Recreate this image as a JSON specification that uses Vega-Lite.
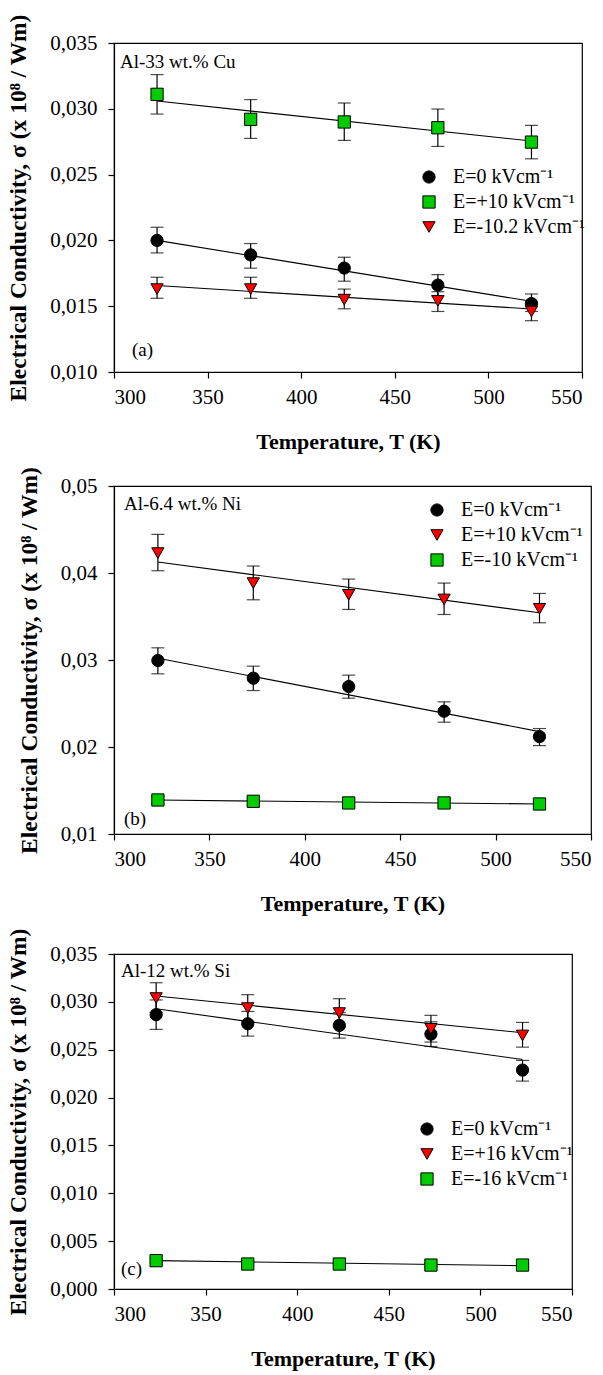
{
  "$schema": "https://vega.github.io/schema/vega-lite/v6.json",
  "padding": {"left": 6, "top": 13, "right": 5, "bottom": 5},
  "background": "white",
  "columns": 1,
  "align": "none",
  "spacing": 12,
  "datasets": {
    "a_pts": [
      {"T": 323, "s": 0.0200, "lo": 0.01905, "hi": 0.0210, "E": "E=0 kVcm⁻¹"},
      {"T": 373, "s": 0.0189, "lo": 0.01789, "hi": 0.01976, "E": "E=0 kVcm⁻¹"},
      {"T": 423, "s": 0.0179, "lo": 0.0169, "hi": 0.01872, "E": "E=0 kVcm⁻¹"},
      {"T": 473, "s": 0.0166, "lo": 0.0158, "hi": 0.0174, "E": "E=0 kVcm⁻¹"},
      {"T": 523, "s": 0.0152, "lo": 0.0146, "hi": 0.01593, "E": "E=0 kVcm⁻¹"},
      {"T": 323, "s": 0.0311, "lo": 0.0296, "hi": 0.0326, "E": "E=+10 kVcm⁻¹"},
      {"T": 373, "s": 0.0292, "lo": 0.02775, "hi": 0.0307, "E": "E=+10 kVcm⁻¹"},
      {"T": 423, "s": 0.0290, "lo": 0.0276, "hi": 0.03044, "E": "E=+10 kVcm⁻¹"},
      {"T": 473, "s": 0.02856, "lo": 0.02714, "hi": 0.02998, "E": "E=+10 kVcm⁻¹"},
      {"T": 523, "s": 0.02747, "lo": 0.0262, "hi": 0.02874, "E": "E=+10 kVcm⁻¹"},
      {"T": 323, "s": 0.0163, "lo": 0.0156, "hi": 0.0172, "E": "E=-10.2 kVcm⁻¹"},
      {"T": 373, "s": 0.0163, "lo": 0.0156, "hi": 0.0172, "E": "E=-10.2 kVcm⁻¹"},
      {"T": 423, "s": 0.0155, "lo": 0.0148, "hi": 0.0163, "E": "E=-10.2 kVcm⁻¹"},
      {"T": 473, "s": 0.0154, "lo": 0.0146, "hi": 0.0161, "E": "E=-10.2 kVcm⁻¹"},
      {"T": 523, "s": 0.0146, "lo": 0.0139, "hi": 0.0153, "E": "E=-10.2 kVcm⁻¹"}
    ],
    "a_fit": [
      {"T": 323, "s": 0.0200, "E": "E=0 kVcm⁻¹"},
      {"T": 523, "s": 0.01537, "E": "E=0 kVcm⁻¹"},
      {"T": 323, "s": 0.03059, "E": "E=+10 kVcm⁻¹"},
      {"T": 523, "s": 0.02755, "E": "E=+10 kVcm⁻¹"},
      {"T": 323, "s": 0.01657, "E": "E=-10.2 kVcm⁻¹"},
      {"T": 523, "s": 0.01479, "E": "E=-10.2 kVcm⁻¹"}
    ],
    "b_pts": [
      {"T": 323, "s": 0.02994, "lo": 0.02841, "hi": 0.0314, "E": "E=0 kVcm⁻¹"},
      {"T": 373, "s": 0.02791, "lo": 0.02649, "hi": 0.02929, "E": "E=0 kVcm⁻¹"},
      {"T": 423, "s": 0.02695, "lo": 0.02561, "hi": 0.02826, "E": "E=0 kVcm⁻¹"},
      {"T": 473, "s": 0.02411, "lo": 0.02285, "hi": 0.02519, "E": "E=0 kVcm⁻¹"},
      {"T": 523, "s": 0.0212, "lo": 0.02016, "hi": 0.02212, "E": "E=0 kVcm⁻¹"},
      {"T": 323, "s": 0.04229, "lo": 0.04026, "hi": 0.04444, "E": "E=+10 kVcm⁻¹"},
      {"T": 373, "s": 0.03884, "lo": 0.03692, "hi": 0.0408, "E": "E=+10 kVcm⁻¹"},
      {"T": 423, "s": 0.0375, "lo": 0.03581, "hi": 0.0393, "E": "E=+10 kVcm⁻¹"},
      {"T": 473, "s": 0.03696, "lo": 0.03523, "hi": 0.03884, "E": "E=+10 kVcm⁻¹"},
      {"T": 523, "s": 0.03589, "lo": 0.03428, "hi": 0.03765, "E": "E=+10 kVcm⁻¹"},
      {"T": 323, "s": 0.01391, "lo": 0.0135, "hi": 0.0143, "E": "E=-10 kVcm⁻¹"},
      {"T": 373, "s": 0.01376, "lo": 0.01336, "hi": 0.01416, "E": "E=-10 kVcm⁻¹"},
      {"T": 423, "s": 0.01357, "lo": 0.01317, "hi": 0.01397, "E": "E=-10 kVcm⁻¹"},
      {"T": 473, "s": 0.01357, "lo": 0.01317, "hi": 0.01397, "E": "E=-10 kVcm⁻¹"},
      {"T": 523, "s": 0.01345, "lo": 0.01305, "hi": 0.01385, "E": "E=-10 kVcm⁻¹"}
    ],
    "b_fit": [
      {"T": 323, "s": 0.03021, "E": "E=0 kVcm⁻¹"},
      {"T": 523, "s": 0.02177, "E": "E=0 kVcm⁻¹"},
      {"T": 323, "s": 0.04126, "E": "E=+10 kVcm⁻¹"},
      {"T": 523, "s": 0.03543, "E": "E=+10 kVcm⁻¹"},
      {"T": 323, "s": 0.0139, "E": "E=-10 kVcm⁻¹"},
      {"T": 523, "s": 0.01345, "E": "E=-10 kVcm⁻¹"}
    ],
    "c_pts": [
      {"T": 323, "s": 0.02866, "lo": 0.02712, "hi": 0.0302, "E": "E=0 kVcm⁻¹"},
      {"T": 373, "s": 0.02771, "lo": 0.02642, "hi": 0.029, "E": "E=0 kVcm⁻¹"},
      {"T": 423, "s": 0.02754, "lo": 0.02621, "hi": 0.02887, "E": "E=0 kVcm⁻¹"},
      {"T": 473, "s": 0.02663, "lo": 0.02534, "hi": 0.02792, "E": "E=0 kVcm⁻¹"},
      {"T": 523, "s": 0.02287, "lo": 0.02172, "hi": 0.02388, "E": "E=0 kVcm⁻¹"},
      {"T": 323, "s": 0.0304, "lo": 0.0289, "hi": 0.0320, "E": "E=+16 kVcm⁻¹"},
      {"T": 373, "s": 0.02935, "lo": 0.0280, "hi": 0.03075, "E": "E=+16 kVcm⁻¹"},
      {"T": 423, "s": 0.02883, "lo": 0.0274, "hi": 0.03033, "E": "E=+16 kVcm⁻¹"},
      {"T": 473, "s": 0.02719, "lo": 0.0258, "hi": 0.02859, "E": "E=+16 kVcm⁻¹"},
      {"T": 523, "s": 0.02649, "lo": 0.02527, "hi": 0.02785, "E": "E=+16 kVcm⁻¹"},
      {"T": 323, "s": 0.00296, "lo": 0.00276, "hi": 0.00316, "E": "E=-16 kVcm⁻¹"},
      {"T": 373, "s": 0.00261, "lo": 0.00241, "hi": 0.00281, "E": "E=-16 kVcm⁻¹"},
      {"T": 423, "s": 0.00261, "lo": 0.00241, "hi": 0.00281, "E": "E=-16 kVcm⁻¹"},
      {"T": 473, "s": 0.0025, "lo": 0.0023, "hi": 0.0027, "E": "E=-16 kVcm⁻¹"},
      {"T": 523, "s": 0.0025, "lo": 0.0023, "hi": 0.0027, "E": "E=-16 kVcm⁻¹"}
    ],
    "c_fit": [
      {"T": 323, "s": 0.02928, "E": "E=0 kVcm⁻¹"},
      {"T": 523, "s": 0.02398, "E": "E=0 kVcm⁻¹"},
      {"T": 323, "s": 0.03061, "E": "E=+16 kVcm⁻¹"},
      {"T": 523, "s": 0.02677, "E": "E=+16 kVcm⁻¹"},
      {"T": 323, "s": 0.00296, "E": "E=-16 kVcm⁻¹"},
      {"T": 523, "s": 0.00244, "E": "E=-16 kVcm⁻¹"}
    ]
  },
  "concat": [
    {
      "width": 468,
      "height": 329,
      "layer": [
        {"data": {"name": "a_fit"}, "mark": {"type": "line", "color": "black", "strokeWidth": 1.1},
         "encoding": {
           "x": {"field": "T", "type": "quantitative", "title": "Temperature, T (K)", "scale": {"domain": [300, 550], "nice": false, "zero": false, "padding": 0}, "axis": {"values": [300, 350, 400, 450, 500, 550], "format": "d"}},
           "y": {"field": "s", "type": "quantitative", "title": "Electrical Conductivity, σ (x 10⁸ / Wm)", "scale": {"domain": [0.010, 0.035], "nice": false, "zero": false, "padding": 0}, "axis": {"values": [0.010, 0.015, 0.020, 0.025, 0.030, 0.035], "labelExpr": "replace(format(datum.value,'.3f'),'.',',')"}},
           "detail": {"field": "E"}}},
        {"data": {"name": "a_pts"}, "mark": {"type": "errorbar", "color": "black", "ticks": {"size": 13, "thickness": 1.2}, "rule": {"strokeWidth": 1.2}},
         "encoding": {
           "x": {"field": "T", "type": "quantitative", "title": "Temperature, T (K)", "scale": {"domain": [300, 550], "nice": false, "zero": false, "padding": 0}},
           "y": {"field": "lo", "type": "quantitative", "title": "Electrical Conductivity, σ (x 10⁸ / Wm)", "scale": {"domain": [0.010, 0.035], "nice": false, "zero": false, "padding": 0}},
           "y2": {"field": "hi"}}},
        {"data": {"name": "a_pts"}, "mark": {"type": "point", "filled": true, "opacity": 1, "stroke": "black", "strokeWidth": 1, "size": 150},
         "encoding": {
           "x": {"field": "T", "type": "quantitative", "title": "Temperature, T (K)", "scale": {"domain": [300, 550], "nice": false, "zero": false, "padding": 0}},
           "y": {"field": "s", "type": "quantitative", "title": "Electrical Conductivity, σ (x 10⁸ / Wm)", "scale": {"domain": [0.010, 0.035], "nice": false, "zero": false, "padding": 0}},
           "color": {"field": "E", "type": "nominal", "scale": {"domain": ["E=0 kVcm⁻¹", "E=+10 kVcm⁻¹", "E=-10.2 kVcm⁻¹"], "range": ["black", "#00cc00", "#ff0000"]},
                     "legend": {"orient": "none", "legendX": 305, "legendY": 124, "title": null}},
           "shape": {"field": "E", "type": "nominal", "scale": {"domain": ["E=0 kVcm⁻¹", "E=+10 kVcm⁻¹", "E=-10.2 kVcm⁻¹"], "range": ["circle", "square", "triangle-down"]},
                     "legend": {"orient": "none", "legendX": 305, "legendY": 124, "title": null}}
         }},
        {"data": {"values": [{"label": "Al-33 wt.% Cu"}]}, "mark": {"type": "text", "align": "left", "baseline": "middle", "fontSize": 19, "font": "Liberation Serif", "color": "black"},
         "encoding": {
           "x": {"datum": 303.2, "type": "quantitative", "title": "Temperature, T (K)", "scale": {"domain": [300, 550], "nice": false, "zero": false, "padding": 0}},
           "y": {"datum": 0.03356, "type": "quantitative", "title": "Electrical Conductivity, σ (x 10⁸ / Wm)", "scale": {"domain": [0.010, 0.035], "nice": false, "zero": false, "padding": 0}},
           "text": {"field": "label"}}},
        {"data": {"values": [{"label": "(a)"}]}, "mark": {"type": "text", "align": "left", "baseline": "middle", "fontSize": 19, "font": "Liberation Serif", "color": "black"},
         "encoding": {
           "x": {"datum": 309.6, "type": "quantitative", "title": "Temperature, T (K)", "scale": {"domain": [300, 550], "nice": false, "zero": false, "padding": 0}},
           "y": {"datum": 0.01167, "type": "quantitative", "title": "Electrical Conductivity, σ (x 10⁸ / Wm)", "scale": {"domain": [0.010, 0.035], "nice": false, "zero": false, "padding": 0}},
           "text": {"field": "label"}}}
      ]
    },
    {
      "width": 477,
      "height": 348,
      "layer": [
        {"data": {"name": "b_fit"}, "mark": {"type": "line", "color": "black", "strokeWidth": 1.1},
         "encoding": {
           "x": {"field": "T", "type": "quantitative", "title": "Temperature, T (K)", "scale": {"domain": [300, 550], "nice": false, "zero": false, "padding": 0}, "axis": {"values": [300, 350, 400, 450, 500, 550], "format": "d"}},
           "y": {"field": "s", "type": "quantitative", "title": "Electrical Conductivity, σ (x 10⁸ / Wm)", "scale": {"domain": [0.01, 0.05], "nice": false, "zero": false, "padding": 0}, "axis": {"values": [0.01, 0.02, 0.03, 0.04, 0.05], "labelExpr": "replace(format(datum.value,'.2f'),'.',',')"}},
           "detail": {"field": "E"}}},
        {"data": {"name": "b_pts"}, "mark": {"type": "errorbar", "color": "black", "ticks": {"size": 13, "thickness": 1.2}, "rule": {"strokeWidth": 1.2}},
         "encoding": {
           "x": {"field": "T", "type": "quantitative", "title": "Temperature, T (K)", "scale": {"domain": [300, 550], "nice": false, "zero": false, "padding": 0}},
           "y": {"field": "lo", "type": "quantitative", "title": "Electrical Conductivity, σ (x 10⁸ / Wm)", "scale": {"domain": [0.01, 0.05], "nice": false, "zero": false, "padding": 0}},
           "y2": {"field": "hi"}}},
        {"data": {"name": "b_pts"}, "mark": {"type": "point", "filled": true, "opacity": 1, "stroke": "black", "strokeWidth": 1, "size": 150},
         "encoding": {
           "x": {"field": "T", "type": "quantitative", "title": "Temperature, T (K)", "scale": {"domain": [300, 550], "nice": false, "zero": false, "padding": 0}},
           "y": {"field": "s", "type": "quantitative", "title": "Electrical Conductivity, σ (x 10⁸ / Wm)", "scale": {"domain": [0.01, 0.05], "nice": false, "zero": false, "padding": 0}},
           "color": {"field": "E", "type": "nominal", "scale": {"domain": ["E=0 kVcm⁻¹", "E=+10 kVcm⁻¹", "E=-10 kVcm⁻¹"], "range": ["black", "#ff0000", "#00cc00"]},
                     "legend": {"orient": "none", "legendX": 313, "legendY": 14, "title": null}},
           "shape": {"field": "E", "type": "nominal", "scale": {"domain": ["E=0 kVcm⁻¹", "E=+10 kVcm⁻¹", "E=-10 kVcm⁻¹"], "range": ["circle", "triangle-down", "square"]},
                     "legend": {"orient": "none", "legendX": 313, "legendY": 14, "title": null}}
         }},
        {"data": {"values": [{"label": "Al-6.4 wt.% Ni"}]}, "mark": {"type": "text", "align": "left", "baseline": "middle", "fontSize": 19, "font": "Liberation Serif", "color": "black"},
         "encoding": {
           "x": {"datum": 305.2, "type": "quantitative", "title": "Temperature, T (K)", "scale": {"domain": [300, 550], "nice": false, "zero": false, "padding": 0}},
           "y": {"datum": 0.0479, "type": "quantitative", "title": "Electrical Conductivity, σ (x 10⁸ / Wm)", "scale": {"domain": [0.01, 0.05], "nice": false, "zero": false, "padding": 0}},
           "text": {"field": "label"}}},
        {"data": {"values": [{"label": "(b)"}]}, "mark": {"type": "text", "align": "left", "baseline": "middle", "fontSize": 19, "font": "Liberation Serif", "color": "black"},
         "encoding": {
           "x": {"datum": 305.2, "type": "quantitative", "title": "Temperature, T (K)", "scale": {"domain": [300, 550], "nice": false, "zero": false, "padding": 0}},
           "y": {"datum": 0.01172, "type": "quantitative", "title": "Electrical Conductivity, σ (x 10⁸ / Wm)", "scale": {"domain": [0.01, 0.05], "nice": false, "zero": false, "padding": 0}},
           "text": {"field": "label"}}}
      ]
    },
    {
      "width": 458,
      "height": 335,
      "layer": [
        {"data": {"name": "c_fit"}, "mark": {"type": "line", "color": "black", "strokeWidth": 1.1},
         "encoding": {
           "x": {"field": "T", "type": "quantitative", "title": "Temperature, T (K)", "scale": {"domain": [300, 550], "nice": false, "zero": false, "padding": 0}, "axis": {"values": [300, 350, 400, 450, 500, 550], "format": "d"}},
           "y": {"field": "s", "type": "quantitative", "title": "Electrical Conductivity, σ (x 10⁸ / Wm)", "scale": {"domain": [0, 0.035], "nice": false, "zero": false, "padding": 0}, "axis": {"values": [0, 0.005, 0.010, 0.015, 0.020, 0.025, 0.030, 0.035], "labelExpr": "replace(format(datum.value,'.3f'),'.',',')"}},
           "detail": {"field": "E"}}},
        {"data": {"name": "c_pts"}, "mark": {"type": "errorbar", "color": "black", "ticks": {"size": 13, "thickness": 1.2}, "rule": {"strokeWidth": 1.2}},
         "encoding": {
           "x": {"field": "T", "type": "quantitative", "title": "Temperature, T (K)", "scale": {"domain": [300, 550], "nice": false, "zero": false, "padding": 0}},
           "y": {"field": "lo", "type": "quantitative", "title": "Electrical Conductivity, σ (x 10⁸ / Wm)", "scale": {"domain": [0, 0.035], "nice": false, "zero": false, "padding": 0}},
           "y2": {"field": "hi"}}},
        {"data": {"name": "c_pts"}, "mark": {"type": "point", "filled": true, "opacity": 1, "stroke": "black", "strokeWidth": 1, "size": 150},
         "encoding": {
           "x": {"field": "T", "type": "quantitative", "title": "Temperature, T (K)", "scale": {"domain": [300, 550], "nice": false, "zero": false, "padding": 0}},
           "y": {"field": "s", "type": "quantitative", "title": "Electrical Conductivity, σ (x 10⁸ / Wm)", "scale": {"domain": [0, 0.035], "nice": false, "zero": false, "padding": 0}},
           "color": {"field": "E", "type": "nominal", "scale": {"domain": ["E=0 kVcm⁻¹", "E=+16 kVcm⁻¹", "E=-16 kVcm⁻¹"], "range": ["black", "#ff0000", "#00cc00"]},
                     "legend": {"orient": "none", "legendX": 303, "legendY": 165, "title": null}},
           "shape": {"field": "E", "type": "nominal", "scale": {"domain": ["E=0 kVcm⁻¹", "E=+16 kVcm⁻¹", "E=-16 kVcm⁻¹"], "range": ["circle", "triangle-down", "square"]},
                     "legend": {"orient": "none", "legendX": 303, "legendY": 165, "title": null}}
         }},
        {"data": {"values": [{"label": "Al-12 wt.% Si"}]}, "mark": {"type": "text", "align": "left", "baseline": "middle", "fontSize": 19, "font": "Liberation Serif", "color": "black"},
         "encoding": {
           "x": {"datum": 303.8, "type": "quantitative", "title": "Temperature, T (K)", "scale": {"domain": [300, 550], "nice": false, "zero": false, "padding": 0}},
           "y": {"datum": 0.03322, "type": "quantitative", "title": "Electrical Conductivity, σ (x 10⁸ / Wm)", "scale": {"domain": [0, 0.035], "nice": false, "zero": false, "padding": 0}},
           "text": {"field": "label"}}},
        {"data": {"values": [{"label": "(c)"}]}, "mark": {"type": "text", "align": "left", "baseline": "middle", "fontSize": 19, "font": "Liberation Serif", "color": "black"},
         "encoding": {
           "x": {"datum": 303.8, "type": "quantitative", "title": "Temperature, T (K)", "scale": {"domain": [300, 550], "nice": false, "zero": false, "padding": 0}},
           "y": {"datum": 0.00209, "type": "quantitative", "title": "Electrical Conductivity, σ (x 10⁸ / Wm)", "scale": {"domain": [0, 0.035], "nice": false, "zero": false, "padding": 0}},
           "text": {"field": "label"}}}
      ]
    }
  ],
  "resolve": {"scale": {"color": "independent", "shape": "independent"}},
  "config": {
    "font": "Liberation Serif",
    "scale": {"continuousPadding": 0},
    "view": {"stroke": "black", "strokeWidth": 1.2},
    "axis": {"grid": false, "domainColor": "black", "domainWidth": 1.2, "tickColor": "black", "tickWidth": 1.2, "tickSize": 6,
             "labelColor": "black", "labelFont": "Liberation Serif", "labelFontSize": 21,
             "titleColor": "black", "titleFont": "Liberation Serif", "titleFontSize": 22, "titleFontWeight": "bold"},
    "axisX": {"labelPadding": 8, "titlePadding": 24},
    "axisY": {"labelPadding": 11, "titlePadding": 19, "titleFontSize": 23.5},
    "legend": {"labelFont": "Liberation Serif", "labelFontSize": 20, "labelColor": "black", "symbolStrokeColor": "black", "symbolStrokeWidth": 1,
               "symbolSize": 150, "rowPadding": 5, "labelOffset": 14, "padding": 0}
  }
}
